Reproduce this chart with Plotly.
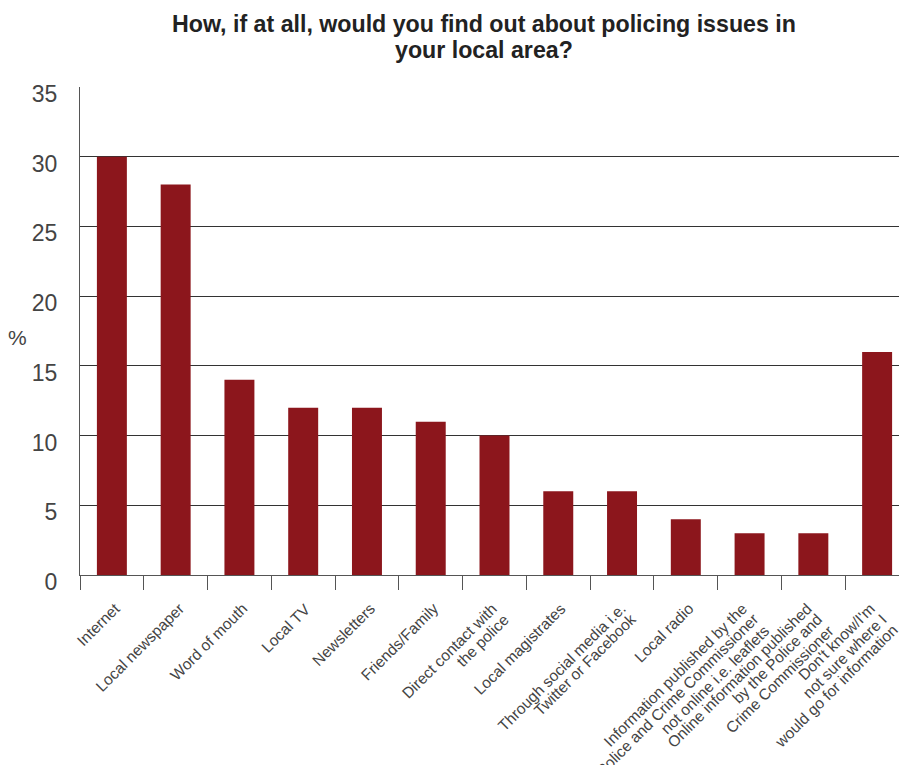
import plotly.graph_objects as go

categories = [
    "Internet", "Local newspaper", "Word of mouth", "Local TV", "Newsletters",
    "Friends/Family", "Direct contact with the police", "Local magistrates",
    "Through social media i.e. Twitter or Facebook", "Local radio",
    "Information published by the Police and Crime Commissioner not online i.e. leaflets",
    "Online information published by the Police and Crime Commissioner",
    "Don't know/I'm not sure where I would go for information",
]
tick_labels = [
    "Internet", "Local newspaper", "Word of mouth", "Local TV", "Newsletters",
    "Friends/Family", "Direct contact with<br>the police", "Local magistrates",
    "Through social media i.e.<br>Twitter or Facebook", "Local radio",
    "Information published by the<br>Police and Crime Commissioner<br>not online i.e. leaflets",
    "Online information published<br>by the Police and<br>Crime Commissioner",
    "Don't know/I'm<br>not sure where I<br>would go for information",
]
values = [30, 28, 14, 12, 12, 11, 10, 6, 6, 4, 3, 3, 16]
y_ticks = [0, 5, 10, 15, 20, 25, 30, 35]
title_lines = ["How, if at all, would you find out about policing issues in", "your local area?"]

fig = go.Figure(go.Bar(x=categories, y=values, marker_color="#8C161C", marker_line_width=0))

fig.update_layout(
    width=901, height=757,
    margin=dict(l=72, r=0, t=79, b=190),
    paper_bgcolor="white", plot_bgcolor="white",
    bargap=0.53,
    font=dict(family="Liberation Sans, Arial, sans-serif", color="#333333"),
    showlegend=False,
)
fig.update_xaxes(
    showticklabels=False,
    ticks="outside", tickson="boundaries", ticklen=14, tickcolor="#555555", tickwidth=1,
    showline=True, linecolor="#555555", linewidth=1,
    range=[-0.5, 12.5], showgrid=False,
)
fig.update_yaxes(
    range=[0, 35], tickvals=y_ticks, tickfont=dict(size=23, color="#444444"),
    ticklabelshift=7,
    showgrid=True, gridcolor="#333333", gridwidth=1,
    showline=True, linecolor="#555555", linewidth=1,
    zeroline=True, zerolinecolor="#333333", zerolinewidth=1,
    ticklabelstandoff=17,
)

# rotated category labels, one annotation per line, right-aligned at the category
for cat, lab in zip(categories, tick_labels):
    lines = lab.split("<br>")
    n = len(lines)
    for i, line in enumerate(lines):
        fig.add_annotation(
            x=cat, y=0, xref="x", yref="y", text=line, textangle=-45,
            xanchor="right", yanchor="top", showarrow=False,
            xshift=14 - 5 * (n - 1) + 11 * i, yshift=-22 - 11 * i,
            font=dict(size=15.5, color="#444444"),
        )

# title lines
for t, yy in zip(title_lines, [1.130, 1.0748]):
    fig.add_annotation(text="<b>" + t + "</b>", x=0.4873, y=yy, xref="paper", yref="paper",
                       xanchor="center", yanchor="middle", showarrow=False,
                       font=dict(size=23.2, color="#222222"))

fig.add_annotation(text="%", x=-0.0748, y=0.4857, xref="paper", yref="paper",
                   xanchor="center", yanchor="middle", showarrow=False,
                   font=dict(size=21, color="#444444"))

fig.write_html("out.html")
